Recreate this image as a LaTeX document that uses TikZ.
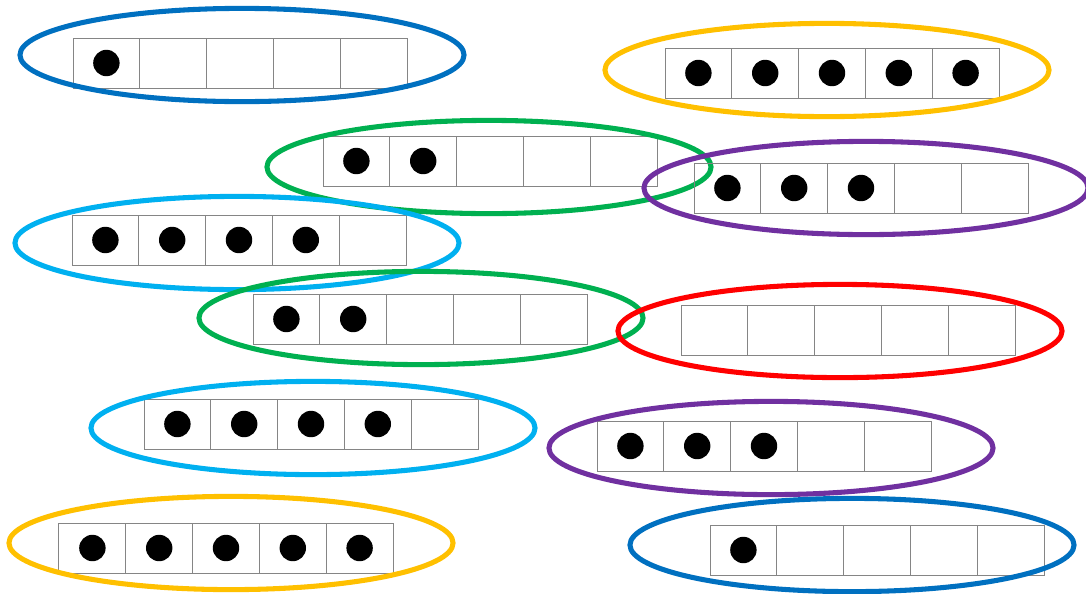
\documentclass[tikz,border=0pt]{standalone}
\usepackage{tikz}
\usetikzlibrary{positioning,shapes.geometric}
\definecolor{ringblue}{HTML}{0070C0}
\definecolor{ringgold}{HTML}{FFC000}
\definecolor{ringgreen}{HTML}{00B050}
\definecolor{ringpurple}{HTML}{7030A0}
\definecolor{ringcyan}{HTML}{00B0F0}
\definecolor{ringred}{HTML}{FF0000}

\begin{document}
\begin{tikzpicture}[
  x=0.025cm, y=-0.025cm,
  cell/.style={draw=black!48, line width=0.7pt, minimum width=1.67cm,
               minimum height=1.25cm, inner sep=0pt, outer sep=0pt},
  counter/.style={circle, fill=black, minimum size=0.66cm, inner sep=0pt},
  ring/.style={ellipse, draw=#1, line width=3.6pt, minimum width=11.1cm,
               minimum height=2.33cm, inner sep=0pt},
]
\useasboundingbox (0,0) rectangle (1086,593);

%====================== FIVE-FRAMES ======================
% name / frame centre / ring centre / filled cells / ring colour
\foreach \g/\fx/\fy/\ex/\ey/\k/\col in {
    A/240/63/242/55/1/ringblue,
    B/832/73/827/70/5/ringgold,
    C/490/161/489/167/2/ringgreen,
    D/861/188/866/188/3/ringpurple,
    E/239/240/237/243/4/ringcyan,
    F/420/319/421/318/2/ringgreen,
    G/848/330/840/331/0/ringred,
    H/311/424/313/428/4/ringcyan,
    I/764/446/771/448/3/ringpurple,
    J/226/548/231/543/5/ringgold,
    K/877/550/852/545/1/ringblue}{
  \foreach \i in {1,...,5}{
    \node[cell] (\g-\i) at ({\fx+(\i-3)*66.8},\fy) {};
    \ifnum\i>\k\relax\else
      \node[counter] (\g-d\i) at (\g-\i) {};
    \fi
  }
  \node[ring=\col] (\g-r) at (\ex,\ey) {};
}
\end{tikzpicture}
\end{document}
